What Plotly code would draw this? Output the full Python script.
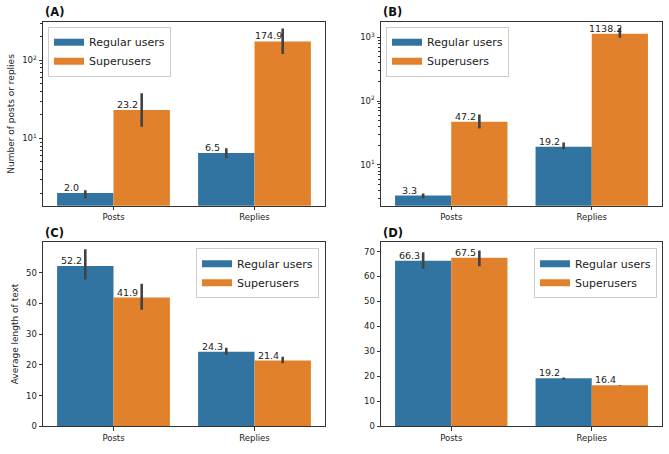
import math
import plotly.graph_objects as go

categories = ["Posts", "Replies"]
series_names = ["Regular users", "Superusers"]

# Panel A (log): number of posts or replies
A_regular = [2.0, 6.5]
A_regular_hi = [2.18, 7.47]
A_regular_lo = [1.71, 5.58]
A_super = [23.2, 174.9]
A_super_hi = [37.9, 256.0]
A_super_lo = [14.1, 121.0]

# Panel B (log)
B_regular = [3.3, 19.2]
B_regular_hi = [3.55, 22.5]
B_regular_lo = [3.01, 17.5]
B_super = [47.2, 1138.2]
B_super_hi = [61.4, 1400.0]
B_super_lo = [37.2, 979.0]

# Panel C: average length of text
C_regular = [52.2, 24.3]
C_regular_hi = [57.6, 25.6]
C_regular_lo = [47.8, 23.3]
C_super = [41.9, 21.4]
C_super_hi = [46.4, 22.6]
C_super_lo = [37.9, 20.5]

# Panel D
D_regular = [66.3, 19.2]
D_regular_hi = [69.7, 19.5]
D_regular_lo = [63.1, 18.6]
D_super = [67.5, 16.4]
D_super_hi = [70.4, 16.5]
D_super_lo = [64.1, 16.3]

W, H = 669, 454
COLORS = ["#3274a1", "#e1812c"]
FONT = "DejaVu Sans"
TXT = "#222222"
ERRC = "#424242"

panels = [
    dict(tag="(A)", log=True, rng=[0.139, 2.494], data=[(A_regular, A_regular_lo, A_regular_hi), (A_super, A_super_lo, A_super_hi)],
         px=(43, 325), py=(22, 208), legend=dict(x=48, y=27, right=False), ytitle="Number of posts or replies", ytx=11),
    dict(tag="(B)", log=True, rng=[0.36, 3.243], data=[(B_regular, B_regular_lo, B_regular_hi), (B_super, B_super_lo, B_super_hi)],
         px=(381, 662), py=(22, 208), legend=dict(x=386, y=27, right=False), ytitle=None),
    dict(tag="(C)", log=False, rng=[0, 59.9], data=[(C_regular, C_regular_lo, C_regular_hi), (C_super, C_super_lo, C_super_hi)],
         px=(43, 325), py=(245, 431), legend=dict(x=319, y=251, right=True), ytitle="Average length of text", ytx=15),
    dict(tag="(D)", log=False, rng=[0, 73.7], data=[(D_regular, D_regular_lo, D_regular_hi), (D_super, D_super_lo, D_super_hi)],
         px=(381, 662), py=(245, 431), legend=dict(x=657, y=251, right=True), ytitle=None),
]

fig = go.Figure()
annotations = []
layout = {}

n_series = len(series_names)
group_width = 0.8
bar_w = group_width / n_series

for pi, p in enumerate(panels):
    k = "" if pi == 0 else str(pi + 1)
    xa, ya = "x" + k, "y" + k
    leg = "legend" + k
    for si, (vals, lo, hi) in enumerate(p["data"]):
        fig.add_trace(go.Bar(
            x=categories, y=vals, name=series_names[si],
            marker=dict(color=COLORS[si], line=dict(width=0)),
            error_y=dict(type="data", symmetric=False,
                         array=[h - v for h, v in zip(hi, vals)],
                         arrayminus=[v - l for l, v in zip(lo, vals)],
                         color=ERRC, thickness=2.6, width=0),
            xaxis=xa, yaxis=ya, showlegend=False,
        ))
        # legend swatch (wide flat patch like matplotlib)
        fig.add_trace(go.Scatter(
            x=[None], y=[None], mode="lines", name=series_names[si],
            line=dict(color=COLORS[si], width=7),
            xaxis=xa, yaxis=ya, legend=leg, showlegend=True, hoverinfo="skip",
        ))
        for ci, v in enumerate(vals):
            center = ci - group_width / 2 + bar_w * (si + 0.5)
            annotations.append(dict(
                x=center - 0.1, y=(math.log10(v) if p["log"] else v),
                xref=xa, yref=ya, text=f"{v:.1f}", showarrow=False,
                xanchor="center", yanchor="bottom", yshift=-2,
                font=dict(family=FONT, size=9.5, color=TXT),
            ))
    x0, x1 = p["px"]
    y0, y1 = p["py"]
    axcommon = dict(showline=True, mirror=True, linecolor="#333333", linewidth=1,
                    ticks="outside", ticklen=3.5, tickcolor="#333333", showgrid=False, zeroline=False,
                    tickfont=dict(family=FONT, size=8.5, color=TXT))
    layout["xaxis" + k] = dict(domain=[x0 / W, x1 / W], anchor=ya, range=[-0.5, 1.5], **axcommon)
    yax = dict(domain=[1 - y1 / H, 1 - y0 / H], anchor=xa, range=p["rng"], **axcommon)
    if p["log"]:
        lo_e = math.floor(p["rng"][0])
        hi_e = math.ceil(p["rng"][1])
        majors = [10 ** e for e in range(lo_e, hi_e + 1) if p["rng"][0] <= e <= p["rng"][1]]
        minors = [m * 10 ** e for e in range(lo_e, hi_e + 1) for m in range(2, 10)
                  if p["rng"][0] <= math.log10(m * 10 ** e) <= p["rng"][1]]
        yax.update(type="log", tickmode="array", tickvals=majors,
                   ticktext=[f"10<sup>{int(round(math.log10(t)))}</sup>" for t in majors],
                   minor=dict(tickmode="array", tickvals=minors, ticks="outside", ticklen=2,
                              tickcolor="#333333", showgrid=False))
    else:
        yax.update(dtick=10, tick0=0)
    layout["yaxis" + k] = yax

    lg = p["legend"]
    layout[leg] = dict(
        x=lg["x"] / W, y=1 - lg["y"] / H, xref="paper", yref="paper",
        xanchor="right" if lg["right"] else "left", yanchor="top",
        bgcolor="rgba(255,255,255,0.8)", bordercolor="#cccccc", borderwidth=1,
        font=dict(family=FONT, size=11, color=TXT), itemwidth=30, tracegroupgap=0,
    )
    annotations.append(dict(
        x=x0 / W, y=1 - (y0 - 9.5) / H, xref="paper", yref="paper", text=f"<b>{p['tag']}</b>",
        showarrow=False, xanchor="left", yanchor="middle",
        font=dict(family=FONT, size=11.5, color="#111111"),
    ))
    if p["ytitle"]:
        annotations.append(dict(
            x=p["ytx"] / W, y=1 - ((y0 + y1) / 2) / H, xref="paper", yref="paper",
            text=p["ytitle"], textangle=-90, showarrow=False, xanchor="center", yanchor="middle",
            font=dict(family=FONT, size=9, color=TXT),
        ))

fig.update_layout(
    width=W, height=H, margin=dict(l=0, r=0, t=0, b=0),
    paper_bgcolor="white", plot_bgcolor="white",
    barmode="group", bargap=0.2, bargroupgap=0,
    annotations=annotations, **layout,
)

fig.write_html("out.html")
